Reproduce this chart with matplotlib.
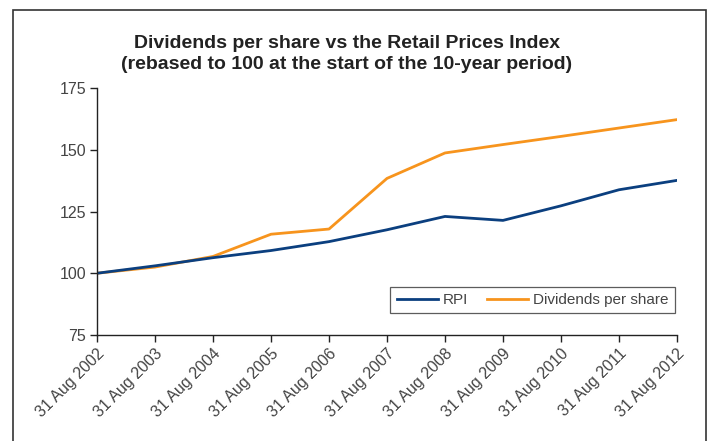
import matplotlib
matplotlib.use("Agg")
import matplotlib.pyplot as plt
from matplotlib.patches import Rectangle

dates = ["31 Aug 2002", "31 Aug 2003", "31 Aug 2004", "31 Aug 2005", "31 Aug 2006",
         "31 Aug 2007", "31 Aug 2008", "31 Aug 2009", "31 Aug 2010", "31 Aug 2011",
         "31 Aug 2012"]
rpi = [100, 103, 106.3, 109.2, 112.8, 117.6, 123.0, 121.4, 127.3, 133.8, 137.6]
dividends = [100, 102.5, 106.8, 115.8, 117.9, 138.4, 148.7, 152.1, 155.4, 158.8, 162.2]
yticks = [75, 100, 125, 150, 175]

plt.rcParams['font.family'] = ['Liberation Sans', 'DejaVu Sans']

fig = plt.figure(figsize=(7.11, 4.41), dpi=100)
ax = fig.add_axes([97 / 711, 1 - 335 / 441, 580 / 711, 247 / 441])

x = list(range(len(dates)))
l2, = ax.plot(x, dividends, color='#F7941D', lw=2.0, label='Dividends per share')
l1, = ax.plot(x, rpi, color='#0B3F7F', lw=2.0, label='RPI')

ax.set_xlim(0, len(dates) - 1)
ax.set_ylim(75, 175)
ax.set_yticks(yticks)
ax.set_xticks(x)
ax.set_xticklabels(dates, rotation=45, ha='right', rotation_mode='anchor')
for s in ['top', 'right']:
    ax.spines[s].set_visible(False)
for s in ['left', 'bottom']:
    ax.spines[s].set_color('#222222')
    ax.spines[s].set_linewidth(1.0)
ax.tick_params(direction='out', length=5, width=1, color='#222222',
               labelsize=11.5, labelcolor='#444444', pad=3)

leg = ax.legend([l1, l2], ['RPI', 'Dividends per share'], ncol=2, loc='lower right',
                bbox_to_anchor=(0.9966, 0.089), borderaxespad=0, frameon=True,
                fancybox=False, fontsize=11, handlelength=2.7, columnspacing=1.2,
                borderpad=0.4, handletextpad=0.35)
leg.get_frame().set_edgecolor('#333333')
leg.get_frame().set_linewidth(0.9)
for t in leg.get_texts():
    t.set_color('#444444')

fig.text(347 / 711, 1 - 54 / 441, "Dividends per share vs the Retail Prices Index\n"
         "(rebased to 100 at the start of the 10-year period)",
         ha='center', va='center', fontsize=14, fontweight='bold', color='#222222',
         linespacing=1.35)

fig.patches.append(Rectangle((13 / 711, -0.1), 693 / 711, 1.1 - 10 / 441,
                             transform=fig.transFigure, fill=False,
                             edgecolor='#333333', lw=1.2))

fig.savefig("out.png", dpi=100)
